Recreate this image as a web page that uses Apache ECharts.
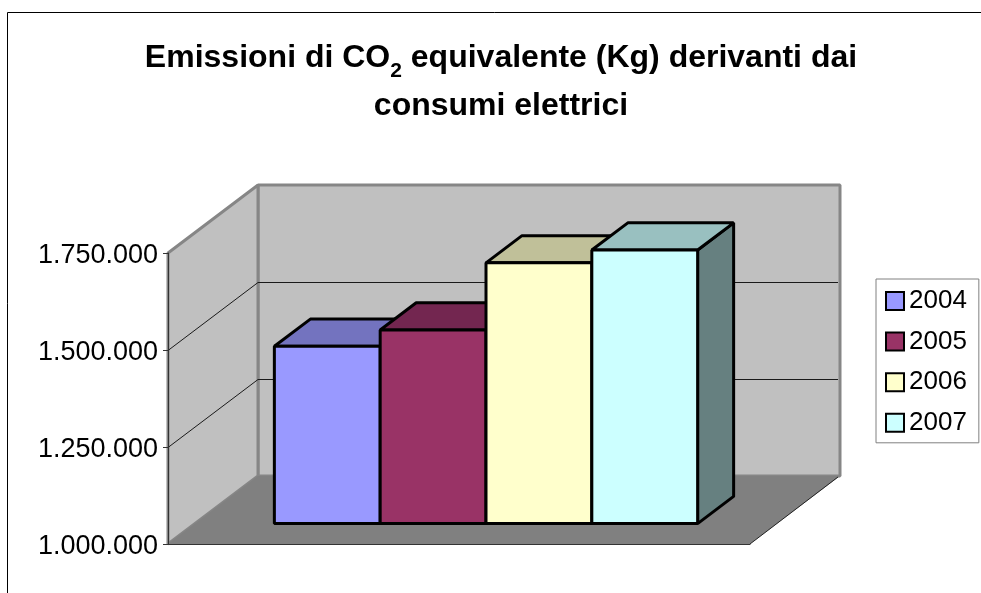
<!DOCTYPE html>
<html>
<head>
<meta charset="utf-8">
<style>
  html, body { margin: 0; padding: 0; background: #fff; }
  #chart { width: 981px; height: 593px; }
</style>
<script src="https://cdn.jsdelivr.net/npm/echarts@6/dist/echarts.min.js"></script>
</head>
<body>
<div id="chart"></div>
<script>
const years = ["2004", "2005", "2006", "2007"];
const emissions = [1457000, 1499000, 1672000, 1705000];
const frontColors = ["#9999ff", "#993366", "#ffffcc", "#ccffff"];
const topColors = ["#7373bf", "#732650", "#c0c099", "#99c0c0"];
const sideColors = ["#4d4d80", "#4d1a33", "#808066", "#668080"];
const yMin = 1000000;
const yMax = 1750000;
const yStep = 250000;
const yTicks = [1000000, 1250000, 1500000, 1750000];

// 3d look: how far the back wall is pushed from the front plane
const DEPTH_X = 90;
const DEPTH_Y = -68;
const BAR_DEPTH_START = 0.3;
const BAR_DEPTH_END = 0.7;
const GAP_WIDTH = 1.5;

const chart = echarts.init(document.getElementById("chart"), null, { renderer: "canvas" });

function renderWalls(params, api) {
  const box = params.coordSys;
  const left = box.x;
  const right = box.x + box.width;
  const top = box.y;
  const bottom = box.y + box.height;
  const gridLines = [];
  yTicks.slice(1, -1).forEach(tick => {
    const y = Math.round(api.coord([0, tick])[1]) + 0.5;
    gridLines.push({
      type: "polyline",
      shape: { points: [[left, y], [left + DEPTH_X, y + DEPTH_Y], [right + DEPTH_X - 2, y + DEPTH_Y]] },
      style: { stroke: "#1a1a1a", lineWidth: 1, fill: null }
    });
  });
  return {
    type: "group",
    children: [
      {
        type: "polygon",
        shape: { points: [[left + DEPTH_X, top + DEPTH_Y], [right + DEPTH_X, top + DEPTH_Y], [right + DEPTH_X, bottom + DEPTH_Y], [left + DEPTH_X, bottom + DEPTH_Y]] },
        style: { fill: "#c0c0c0", stroke: "#868686", lineWidth: 3, lineJoin: "bevel" }
      },
      {
        type: "polygon",
        shape: { points: [[left, top], [left + DEPTH_X, top + DEPTH_Y], [left + DEPTH_X, bottom + DEPTH_Y], [left, bottom]] },
        style: { fill: "#c0c0c0", stroke: "#868686", lineWidth: 3, lineJoin: "bevel" }
      },
      {
        type: "polygon",
        shape: { points: [[left, bottom], [left + DEPTH_X, bottom + DEPTH_Y], [right + DEPTH_X, bottom + DEPTH_Y], [right, bottom]] },
        style: { fill: "#808080" }
      },
      {
        type: "line",
        shape: { x1: right, y1: bottom, x2: right + DEPTH_X - 2, y2: bottom + DEPTH_Y + 1 },
        style: { stroke: "#222", lineWidth: 1 }
      }
    ].concat(gridLines)
  };
}

function renderBar(index) {
  return function (params, api) {
    const band = api.size([1, 0])[0];
    const center = api.coord([0, yMin])[0];
    const barWidth = band / (years.length + GAP_WIDTH);
    const base = center - band / 2 + barWidth * GAP_WIDTH / 2 + index * barWidth;
    const yTop = api.coord([0, api.value(1)])[1];
    const yBottom = api.coord([0, yMin])[1];
    const x0 = base + DEPTH_X * BAR_DEPTH_START;
    const x1 = x0 + barWidth;
    const y0 = yTop + DEPTH_Y * BAR_DEPTH_START;
    const y1 = yBottom + DEPTH_Y * BAR_DEPTH_START;
    const dx = DEPTH_X * (BAR_DEPTH_END - BAR_DEPTH_START);
    const dy = DEPTH_Y * (BAR_DEPTH_END - BAR_DEPTH_START);
    const edge = { stroke: "#000", lineWidth: 3, lineJoin: "bevel" };
    return {
      type: "group",
      children: [
        {
          type: "polygon",
          shape: { points: [[x1, y0], [x1 + dx, y0 + dy], [x1 + dx, y1 + dy], [x1, y1]] },
          style: Object.assign({ fill: sideColors[index] }, edge)
        },
        {
          type: "polygon",
          shape: { points: [[x0, y0], [x0 + dx, y0 + dy], [x1 + dx, y0 + dy], [x1, y0]] },
          style: Object.assign({ fill: topColors[index] }, edge)
        },
        {
          type: "rect",
          shape: { x: x0, y: y0, width: barWidth, height: y1 - y0 },
          style: Object.assign({ fill: frontColors[index] }, edge)
        }
      ]
    };
  };
}

const barSeries = years.map((year, i) => ({
  name: year,
  type: "custom",
  z: 4,
  renderItem: renderBar(i),
  encode: { x: 0, y: 1 },
  itemStyle: { color: frontColors[i] },
  data: [[0, emissions[i]]]
}));

chart.setOption({
  animation: false,
  textStyle: { fontFamily: "Liberation Sans" },
  title: {
    left: 496,
    top: 29,
    textAlign: "center",
    text: "{b|Emissioni di CO}{sub|2}{b| equivalente (Kg) derivanti dai}\n{b|consumi elettrici}",
    textStyle: {
      rich: {
        b: { fontFamily: "Liberation Sans", fontWeight: "bold", fontSize: 32, lineHeight: 48, color: "#000" },
        sub: { fontFamily: "Liberation Sans", fontWeight: "bold", fontSize: 21, lineHeight: 32, verticalAlign: "bottom", color: "#000" }
      }
    }
  },
  legend: {
    data: years,
    orient: "vertical",
    left: 876,
    top: 279,
    icon: "rect",
    itemWidth: 18,
    itemHeight: 18,
    itemGap: 14.6,
    padding: [9, 12, 7, 9],
    backgroundColor: "#fff",
    borderColor: "#808080",
    borderWidth: 1,
    selectedMode: false,
    itemStyle: { borderColor: "#000", borderWidth: 2 },
    textStyle: { fontFamily: "Liberation Sans", fontSize: 26, color: "#000" }
  },
  grid: { left: 168, top: 253, width: 582, height: 291 },
  xAxis: {
    type: "category",
    data: [""],
    z: 3,
    axisLine: { lineStyle: { color: "#333", width: 1 } },
    axisTick: { show: false },
    axisLabel: { show: false }
  },
  yAxis: {
    type: "value",
    min: yMin,
    max: yMax,
    interval: yStep,
    z: 3,
    splitLine: { show: false },
    axisLine: { show: true, lineStyle: { color: "#333", width: 1 } },
    axisTick: { show: true, length: 5, lineStyle: { color: "#333", width: 1 } },
    axisLabel: {
      fontFamily: "Liberation Sans",
      fontSize: 27,
      color: "#000",
      margin: 10,
      verticalAlign: "top",
      lineHeight: 6,
      formatter: v => String(v).replace(/\B(?=(\d{3})+$)/g, ".")
    }
  },
  graphic: [{
    type: "rect",
    z: 0,
    silent: true,
    shape: { x: 7.5, y: 12.5, width: 1000, height: 1000 },
    style: { fill: null, stroke: "#000", lineWidth: 1 }
  }],
  series: [{
    name: "walls",
    type: "custom",
    z: 1,
    silent: true,
    renderItem: renderWalls,
    encode: { x: 0, y: 1 },
    data: [[0, yMin]]
  }].concat(barSeries)
});
</script>
</body>
</html>
